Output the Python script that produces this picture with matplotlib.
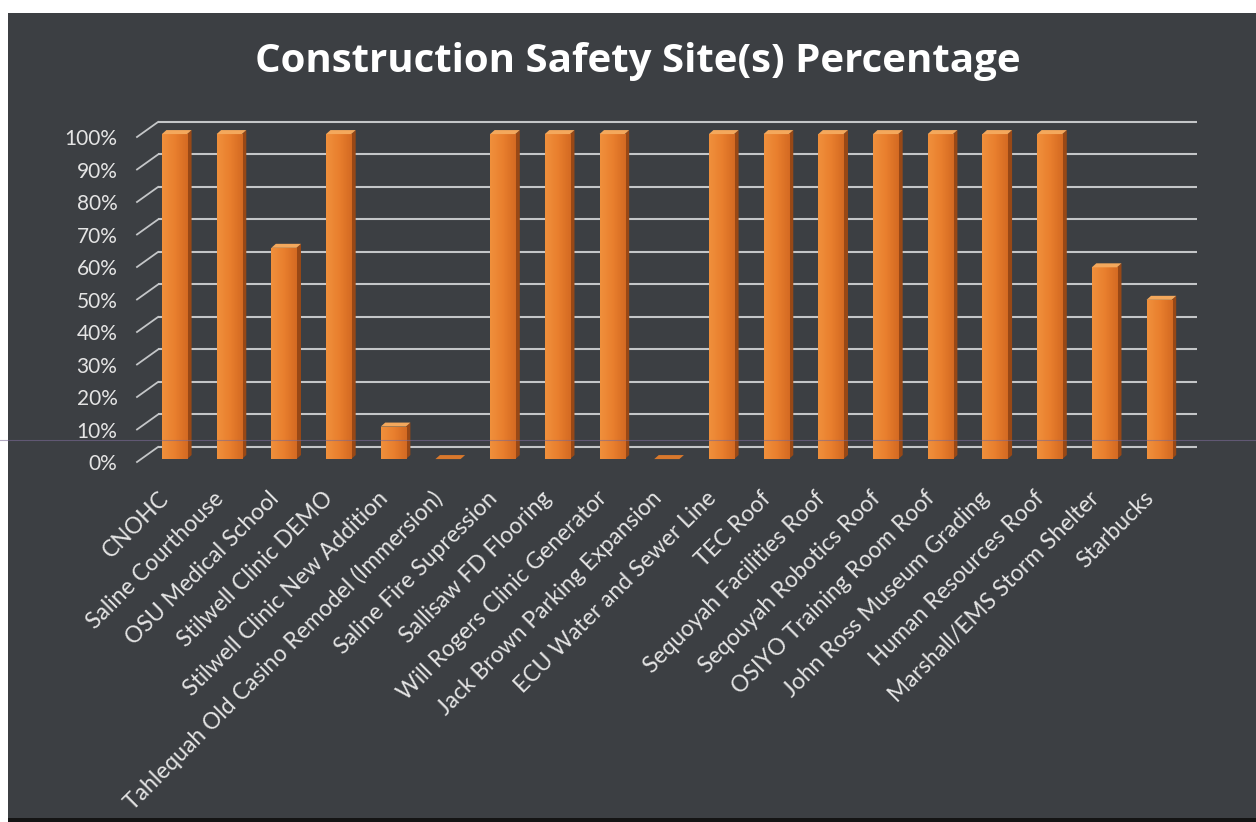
import numpy as np
import matplotlib
matplotlib.use("Agg")
import matplotlib.pyplot as plt
from matplotlib.patches import Rectangle, Polygon
from matplotlib.colors import LinearSegmentedColormap

# ---------------- data ----------------
sites = [
    "CNOHC", "Saline Courthouse", "OSU Medical School", "Stilwell Clinic DEMO",
    "Stilwell Clinic New Addition", "Tahlequah Old Casino Remodel (Immersion)",
    "Saline Fire Supression", "Sallisaw FD Flooring", "Will Rogers Clinic Generator",
    "Jack Brown Parking Expansion", "ECU Water and Sewer Line", "TEC Roof",
    "Sequoyah Facilities Roof", "Seqouyah Robotics Roof", "OSIYO Training Room Roof",
    "John Ross Museum Grading", "Human Resources Roof", "Marshall/EMS Storm Shelter",
    "Starbucks",
]
percent = [1.00, 1.00, 0.65, 1.00, 0.10, 0.00, 1.00, 1.00, 1.00, 0.00,
           1.00, 1.00, 1.00, 1.00, 1.00, 1.00, 1.00, 0.59, 0.49]
ytick_vals = [0.0, 0.1, 0.2, 0.3, 0.4, 0.5, 0.6, 0.7, 0.8, 0.9, 1.0]
ytick_labels = ["0%", "10%", "20%", "30%", "40%", "50%", "60%", "70%", "80%", "90%", "100%"]
title = "Construction Safety Site(s) Percentage"

# ---------------- style ----------------
W, H = 1256, 822
BG = "#3c3f43"
TXT = "#e4e4e4"
GRID = "#c4c6c8"
FRONT_L = "#f0903c"
FRONT_R = "#d46a22"
SIDE = "#984816"
TOP = "#f4a85c"

fig = plt.figure(figsize=(W / 100, H / 100), dpi=100, facecolor="white")

# scanned page background
fig.add_artist(Rectangle((8 / W, 4 / H), 1 - 8 / W, (H - 13 - 4) / H,
                         transform=fig.transFigure, facecolor=BG, edgecolor="none", zorder=-10))
fig.add_artist(Rectangle((8 / W, 0), 1 - 8 / W, 4 / H,
                         transform=fig.transFigure, facecolor="#141414", edgecolor="none",
                         zorder=-10))

# axes placement (pixels -> figure fraction)
L, R, T, B = 130, 1210, 100, 470
ax = fig.add_axes([L / W, 1 - B / H, (R - L) / W, (B - T) / H])
ax.set_zorder(2)
ax.set_facecolor("none")
for s in ax.spines.values():
    s.set_visible(False)

px_per_x = 54.7
x0_pix = 174.5
front0, front100 = 462, 137
px_per_y = front0 - front100

# 3D-like gridlines on back wall with diagonal floor stubs
back_dy = 15 / px_per_y
gx0 = (158 - x0_pix) / px_per_x
gx1 = (1197 - x0_pix) / px_per_x
sx0 = (137 - x0_pix) / px_per_x
for v in ytick_vals:
    ax.plot([gx0, gx1], [v + back_dy, v + back_dy], color=GRID, lw=1.5, zorder=1,
            solid_capstyle="butt")
    ax.plot([sx0, gx0], [v, v + back_dy], color=GRID, lw=1.3, zorder=1)

# bars
x = np.arange(len(sites))
bw = 0.46
base = 0.009
ddx = 4.5 / px_per_x
ddy = 4 / px_per_y
cmap = LinearSegmentedColormap.from_list("o", [FRONT_L, "#e97f2e", FRONT_R])
grad = np.linspace(0, 1, 64).reshape(1, -1)
bars = ax.bar(x, percent, width=bw, bottom=base, color=FRONT_R, edgecolor="none", zorder=3)
for xi, v, rect in zip(x, percent, bars):
    top = base + v
    if v > 0:
        im = ax.imshow(grad, cmap=cmap, aspect="auto", zorder=3.1,
                       extent=(xi - bw / 2, xi + bw / 2, base, top))
        im.set_clip_path(rect)
        ax.add_patch(Polygon([(xi + bw / 2, base), (xi + bw / 2 + ddx, base + ddy),
                              (xi + bw / 2 + ddx, top + ddy), (xi + bw / 2, top)],
                             closed=True, facecolor=SIDE, edgecolor="none", zorder=2.9))
    ax.add_patch(Polygon([(xi - bw / 2, top), (xi + bw / 2, top),
                          (xi + bw / 2 + ddx, top + ddy), (xi - bw / 2 + ddx, top + ddy)],
                         closed=True, facecolor=TOP if v > 0 else "#d9782c",
                         edgecolor="none", zorder=3.2))

ax.set_xlim((L - x0_pix) / px_per_x, (R - x0_pix) / px_per_x)
ax.set_ylim((front0 - B) / px_per_y, (front0 - T) / px_per_y)

# y ticks
ax.set_yticks(ytick_vals)
ax.set_yticklabels(ytick_labels)
ax.tick_params(axis="y", length=0, pad=9, labelsize=15, labelcolor=TXT)
for t in ax.get_yticklabels():
    t.set_fontfamily(["Lato", "DejaVu Sans"])

# x tick labels (rotated, ending just left of each bar)
ax.set_xticks(x - 0.16)
ax.set_xticklabels(sites, rotation=45, ha="right", va="center", rotation_mode="anchor")
ax.tick_params(axis="x", length=0, pad=18, labelsize=16.5, labelcolor=TXT)
for t in ax.get_xticklabels():
    t.set_fontfamily(["Lato", "DejaVu Sans"])

# title
fig.text(638 / W, 1 - 72 / H, title, ha="center", va="baseline", color="white",
         fontsize=29, fontweight="bold", family=["Open Sans", "DejaVu Sans"])

# faint scan artefact line
fig.add_artist(plt.Line2D([0, 1], [1 - 440 / H, 1 - 440 / H], transform=fig.transFigure,
                          color="#7a6a96", lw=0.8, alpha=0.6, zorder=5))

fig.savefig("out.png", dpi=100, facecolor="white")
